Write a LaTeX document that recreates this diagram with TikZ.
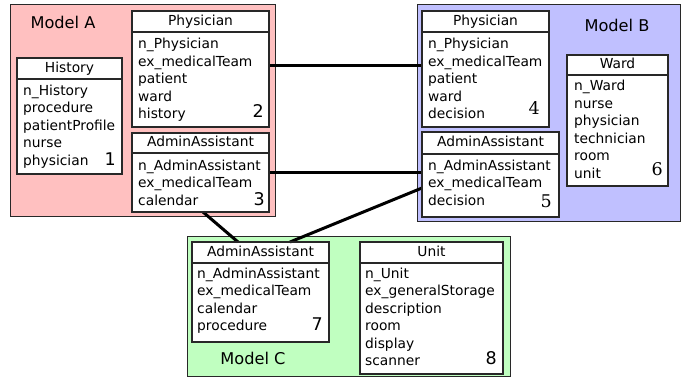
\documentclass[tikz,border=0pt]{standalone}
\usepackage{fontspec}
\setmainfont{DejaVu Sans}
\newfontfamily\numserif{DejaVu Serif}
\usetikzlibrary{calc}
\definecolor{pinkA}{RGB}{255,192,192}
\definecolor{blueB}{RGB}{192,192,255}
\definecolor{greenC}{RGB}{192,255,192}
\definecolor{edge}{RGB}{40,40,40}
\newcommand{\bodyfont}{\fontsize{13.8}{17.5}\selectfont}
\begin{document}
\begin{tikzpicture}[x=1pt,y=-1pt,
  model/.style={draw=edge,line width=1pt},
  classbox/.style={draw=edge,fill=white,line width=1.1pt,anchor=north west,inner sep=0,outer sep=0},
  hdr/.style={draw=edge,line width=1.1pt,anchor=north west,inner sep=0,outer sep=0,font=\bodyfont,text height=10.5pt,text depth=3pt},
  body/.style={anchor=north west,inner sep=0,align=left,font=\bodyfont},
  num/.style={anchor=base east,inner sep=0,font=\fontsize{17.5}{20}\selectfont},
  snum/.style={num,font=\fontsize{17.5}{20}\selectfont\numserif},
  mlabel/.style={anchor=base,inner sep=0,font=\fontsize{16.2}{19}\selectfont},
  conn/.style={line width=3pt,black}]
\useasboundingbox (0,0) rectangle (686,379);
% models
\path[model,fill=pinkA] (10,5) rectangle (275,217);
\path[model,fill=blueB] (417,5) rectangle (680,222);
\path[model,fill=greenC] (187,237) rectangle (510,377);
\node[mlabel] (lA) at (63,28.5) {Model A};
\node[mlabel] (lB) at (617,32) {Model B};
\node[mlabel] (lC) at (253,365) {Model C};
% class boxes (outer frames)
\node[classbox,minimum width=137,minimum height=116] (physA) at (132,11) {};
\node[classbox,minimum width=105,minimum height=116] (hist) at (17,58) {};
\node[classbox,minimum width=137,minimum height=79] (adminA) at (132,133) {};
\node[classbox,minimum width=127,minimum height=116] (physB) at (422,11) {};
\node[classbox,minimum width=137,minimum height=85] (adminB) at (422,132) {};
\node[classbox,minimum width=101,minimum height=131] (ward) at (567,55) {};
\node[classbox,minimum width=137,minimum height=100] (adminC) at (192,242) {};
\node[classbox,minimum width=143,minimum height=132] (unit) at (360,242) {};
% connectors
\draw[conn] ($(physA.north east)+(0,55)$) -- ($(physB.north west)+(0,55)$);
\draw[conn] ($(adminA.north east)+(0,40)$) -- ($(adminB.north west)+(0,41)$);
\draw[conn] ($(adminA.south west)+(71,0)$) -- ($(adminC.north west)+(46,0)$);
\draw[conn] ($(adminC.north west)+(98,0)$) -- ($(adminB.north west)+(0,56)$);
% redraw frames on top of connector ends
\foreach \n in {physA,hist,adminA,physB,adminB,ward,adminC,unit}
  \draw[edge,line width=1.1pt] (\n.north west) rectangle (\n.south east);
% headers
\node[hdr,minimum width=137,minimum height=21] (physAh) at (132,11) {Physician};
\node[hdr,minimum width=105,minimum height=21] (histh) at (17,58) {History};
\node[hdr,minimum width=137,minimum height=20] (adminAh) at (132,133) {AdminAssistant};
\node[hdr,minimum width=127,minimum height=21] (physBh) at (422,11) {Physician};
\node[hdr,minimum width=137,minimum height=22] (adminBh) at (422,132) {AdminAssistant};
\node[hdr,minimum width=101,minimum height=20] (wardh) at (567,55) {Ward};
\node[hdr,minimum width=137,minimum height=21] (adminCh) at (192,242) {AdminAssistant};
\node[hdr,minimum width=143,minimum height=21] (unith) at (360,242) {Unit};
% bodies
\node[body] (physAb) at (138,36.5) {\strut n\_Physician\\\strut ex\_medicalTeam\\\strut patient\\\strut ward\\\strut history};
\node[body] (histb) at (23,82.8) {\strut n\_History\\\strut procedure\\\strut patientProfile\\\strut nurse\\\strut physician};
\node[body] (adminAb) at (138,157.8) {\strut n\_AdminAssistant\\\strut ex\_medicalTeam\\\strut calendar};
\node[body] (physBb) at (428,36.5) {\strut n\_Physician\\\strut ex\_medicalTeam\\\strut patient\\\strut ward\\\strut decision};
\node[body] (adminBb) at (428,157.8) {\strut n\_AdminAssistant\\\strut ex\_medicalTeam\\\strut decision};
\node[body] (wardb) at (574,78.5) {\strut n\_Ward\\\strut nurse\\\strut physician\\\strut technician\\\strut room\\\strut unit};
\node[body] (adminCb) at (197,265.8) {\strut n\_AdminAssistant\\\strut ex\_medicalTeam\\\strut calendar\\\strut procedure};
\node[body] (unitb) at (365,265.8) {\strut n\_Unit\\\strut ex\_generalStorage\\\strut description\\\strut room\\\strut display\\\strut scanner};
% numbers
\node[num] (n1) at (116,166) {1};
\node[num] (n2) at (264,118) {2};
\node[num] (n3) at (265,206) {3};
\node[snum] (n4) at (540,115) {4};
\node[snum] (n5) at (552,207.5) {5};
\node[snum] (n6) at (663,176) {6};
\node[num] (n7) at (323,331) {7};
\node[num] (n8) at (497,365) {8};
\end{tikzpicture}
\end{document}
